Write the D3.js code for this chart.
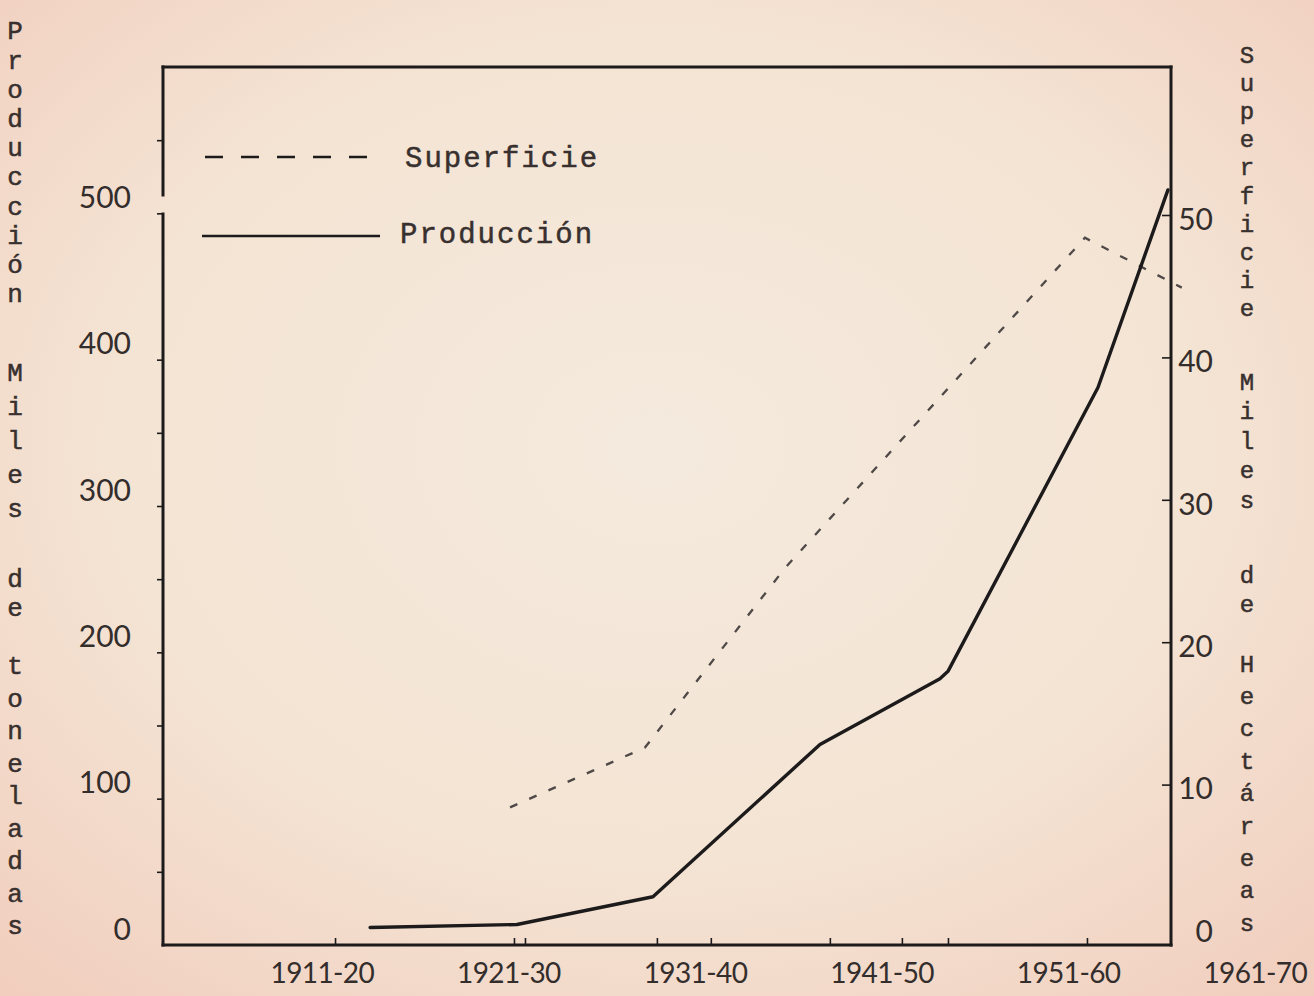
<!DOCTYPE html>
<html>
<head>
<meta charset="utf-8">
<script src="https://cdn.jsdelivr.net/npm/d3@7"></script>
<style>
  html, body { margin: 0; padding: 0; background: #f3dccb; }
  svg { display: block; }
</style>
</head>
<body>
<svg id="chart" width="1314" height="996"></svg>
<script>
// ---------------- DATA ----------------
const xLabels      = ["1911-20", "1921-30", "1931-40", "1941-50", "1951-60", "1961-70"];
const xLabelYears  = [1915.5, 1925.5, 1935.5, 1945.5, 1955.5, 1965.5];

// Producción (miles de toneladas) – solid line, left axis
const prodYears  = [1918.06, 1925.93, 1933.22, 1942.17, 1948.60, 1949.03, 1957.07, 1960.82];
const prodValues = [12, 14, 33, 137, 182, 187, 381, 516];

// Superficie (miles de hectáreas) – dashed line, right axis
const supYears  = [1925.56, 1932.79, 1940.29, 1956.37, 1961.56];
const supValues = [8.4, 12.6, 25.2, 48.4, 44.9];

const leftTickLabels  = [0, 100, 200, 300, 400, 500];
const leftTickMarks   = [50, 100, 150, 200, 250, 300, 350, 400, 500, 550];
const rightTickLabels = [0, 10, 20, 30, 40, 50];
const rightTickMarks  = [10, 20, 30, 40, 50];
const bottomTickYears = [1916.18, 1925.77, 1926.36, 1933.43, 1936.32, 1942.70, 1946.56, 1949.03, 1956.48];

const leftTitleWords  = ["Producción", "Miles", "de", "toneladas"];
const rightTitleWords = ["Superficie", "Miles", "de", "Hectáreas"];
const legendItems = ["Superficie", "Producción"];

// ---------------- LAYOUT ----------------
const svg = d3.select("#chart");
const W = 1314, H = 996;
const plot = { left: 163, right: 1171, top: 67, bottom: 945 };

const x  = d3.scaleLinear().domain([1906.96, 1960.93]).range([plot.left, plot.right - 1]);
const yL = d3.scaleLinear().domain([0, 600]).range([plot.bottom, plot.top]);
const yR = d3.scaleLinear().domain([0, 50]).range([927, 215]);

// background paper
const defs = svg.append("defs");
const grad = defs.append("radialGradient").attr("id", "paper")
  .attr("cx", "50%").attr("cy", "45%").attr("r", "75%");
grad.append("stop").attr("offset", "0%").attr("stop-color", "#f4eadd");
grad.append("stop").attr("offset", "55%").attr("stop-color", "#f4e4d4");
grad.append("stop").attr("offset", "100%").attr("stop-color", "#f1cdbd");
svg.append("rect").attr("width", W).attr("height", H).attr("fill", "url(#paper)");

const ink = "#1c1a1a";
const typeInk = "#38302e";
const typeFont = "'Liberation Mono', 'DejaVu Sans Mono', monospace";
const numFont  = "Lato, 'Open Sans', 'DejaVu Sans', sans-serif";

// ---------------- FRAME ----------------
const frame = svg.append("g").attr("stroke", ink).attr("stroke-width", 3).attr("fill", "none")
  .attr("stroke-linecap", "square");
frame.append("line").attr("x1", plot.left).attr("x2", plot.right).attr("y1", plot.top).attr("y2", plot.top);
frame.append("line").attr("x1", plot.right).attr("x2", plot.right).attr("y1", plot.top).attr("y2", plot.bottom);
frame.append("line").attr("x1", plot.left).attr("x2", plot.right).attr("y1", plot.bottom).attr("y2", plot.bottom);
frame.append("line").attr("x1", plot.left).attr("x2", plot.left).attr("y1", plot.top).attr("y2", 195);
frame.append("line").attr("x1", plot.left).attr("x2", plot.left).attr("y1", 214).attr("y2", plot.bottom);

// ---------------- AXES (ticks) ----------------
const leftAxis = svg.append("g").attr("transform", `translate(${plot.left},0)`)
  .call(d3.axisLeft(yL).tickValues(leftTickMarks).tickSize(6).tickFormat(""));
const rightAxis = svg.append("g").attr("transform", `translate(${plot.right},0)`)
  .call(d3.axisLeft(yR).tickValues(rightTickMarks).tickSize(9).tickFormat(""));
const bottomAxis = svg.append("g").attr("transform", `translate(0,${plot.bottom})`)
  .call(d3.axisTop(x).tickValues(bottomTickYears).tickSize(7).tickFormat(""));
[leftAxis, rightAxis, bottomAxis].forEach(a => {
  a.select(".domain").remove();
  a.selectAll(".tick line").attr("stroke", ink).attr("stroke-width", 1.6);
});

// tick labels
function numText(sel) {
  sel.attr("font-family", numFont).attr("font-weight", 400).attr("font-size", 30)
     .attr("fill", "#332d2c");
}
svg.append("g").selectAll("text").data(leftTickLabels).join("text")
  .attr("x", 131).attr("y", d => yL(d) - 16).attr("dy", "0.36em")
  .attr("text-anchor", "end").call(numText).text(d => d);

svg.append("g").selectAll("text").data(rightTickLabels).join("text")
  .attr("x", 1213).attr("y", d => yR(d) + 4).attr("dy", "0.36em")
  .attr("text-anchor", "end").call(numText).text(d => d);

svg.append("g").selectAll("text").data(xLabels).join("text")
  .attr("x", (d, i) => x(xLabelYears[i])).attr("y", 983)
  .attr("text-anchor", "middle").call(numText)
  .attr("font-size", 28).attr("letter-spacing", -0.6)
  .text(d => d);

// ---------------- VERTICAL (typewriter, stacked) TITLES ----------------
function stackedTitle(words, cx, wordStarts, wordSteps, fontSize) {
  const chars = [];
  words.forEach((w, wi) => {
    for (let i = 0; i < w.length; i++) {
      chars.push({ ch: w[i], y: wordStarts[wi] + i * wordSteps[wi] });
    }
  });
  svg.append("g").selectAll("text").data(chars).join("text")
    .attr("x", cx).attr("y", d => d.y).attr("dy", "0.36em")
    .attr("text-anchor", "middle")
    .attr("font-family", typeFont).attr("font-size", fontSize)
    .attr("fill", typeInk).attr("stroke", typeInk).attr("stroke-width", 0.5)
    .text(d => d.ch);
}
stackedTitle(leftTitleWords, 15, [30, 372, 578, 665], [29.2, 34, 29, 32.5], 26);
stackedTitle(rightTitleWords, 1247, [54, 381, 574, 663], [28.2, 29.5, 29, 32.4], 24);

// ---------------- LINES ----------------
const prodData = prodYears.map((yr, i) => [yr, prodValues[i]]);
const supData  = supYears.map((yr, i) => [yr, supValues[i]]);

svg.append("path").datum(supData)
  .attr("d", d3.line().x(d => x(d[0])).y(d => yR(d[1])))
  .attr("fill", "none").attr("stroke", "#4e4846").attr("stroke-width", 2.3)
  .attr("stroke-dasharray", "8,13");

svg.append("path").datum(prodData)
  .attr("d", d3.line().x(d => x(d[0])).y(d => yL(d[1])))
  .attr("fill", "none").attr("stroke", ink).attr("stroke-width", 3.4)
  .attr("stroke-linejoin", "round").attr("stroke-linecap", "round");

// ---------------- LEGEND ----------------
const legend = svg.append("g");
legend.append("line").attr("x1", 205).attr("x2", 372).attr("y1", 157).attr("y2", 157)
  .attr("stroke", ink).attr("stroke-width", 2.4).attr("stroke-dasharray", "18,18");
legend.append("line").attr("x1", 202).attr("x2", 380).attr("y1", 236).attr("y2", 236)
  .attr("stroke", ink).attr("stroke-width", 2.6);
legend.selectAll("text").data(legendItems).join("text")
  .attr("x", (d, i) => i === 0 ? 405 : 400)
  .attr("y", (d, i) => i === 0 ? 167 : 243)
  .attr("font-family", typeFont).attr("font-size", 29).attr("letter-spacing", 2)
  .attr("fill", typeInk).attr("stroke", typeInk).attr("stroke-width", 0.5)
  .text(d => d);
</script>
</body>
</html>
